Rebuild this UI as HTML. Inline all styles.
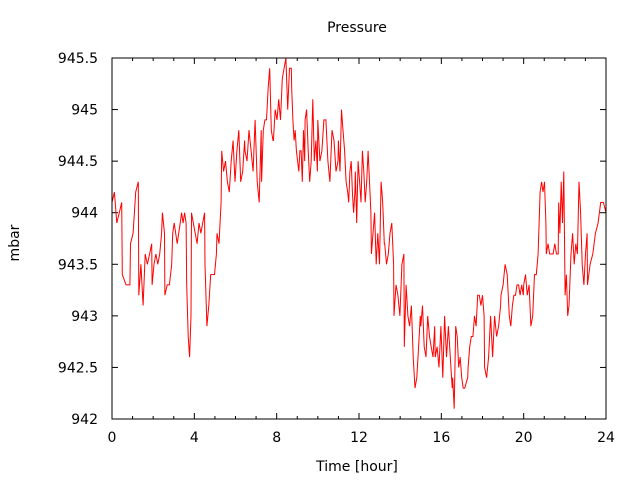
<!DOCTYPE html>
<html><head><meta charset="utf-8"><style>
body{margin:0;background:#fff}
svg{display:block;font-family:"DejaVu Sans","Liberation Sans",sans-serif}
</style></head><body>
<svg width="640" height="480">
<rect width="640" height="480" fill="#fff"/>
<text x="357" y="32" font-size="14" text-anchor="middle">Pressure</text>
<text x="19" y="243" font-size="14" text-anchor="middle" transform="rotate(-90 19 243)">mbar</text>
<text x="357" y="471" font-size="14" text-anchor="middle">Time [hour]</text>
<g id="axes"></g>
<g id="series"></g>
<rect x="112" y="58" width="494" height="361" fill="none" stroke="#000" stroke-width="1"/>
</svg>
<script>
const xTicks=[0,4,8,12,16,20,24];
const yTicks=[942,942.5,943,943.5,944,944.5,945,945.5];
const yTickLabels=["942","942.5","943","943.5","944","944.5","945","945.5"];
// segments: [startHour, endHour, values]
const seg1=[0,0.47,[944.1,944.2,943.9,944.0,944.1]];
const seg2=[0.5,0.87,[943.4,943.3,943.3]];
const seg3=[0.9,1.28,[943.7,943.8,944.2,944.3]];
const seg4=[1.3,1.93,[943.2,943.5,943.1,943.6,943.5,943.6,943.7]];
const seg5=[1.95,2.41,[943.3,943.5,943.6,943.5,943.6,943.8]];
const seg6=[2.45,2.55,[944.0,943.8]];
const seg7=[2.57,2.9,[943.2,943.3,943.3,943.5]];
const seg8=[2.95,3.6,[943.8,943.9,943.8,943.7,943.8,943.9,944.0,943.9,944.0,943.9]];
const seg9=[3.63,3.84,[943.3,942.8,942.6,943.0]];
const seg10=[3.86,4.5,[944.0,943.9,943.8,943.7,943.9,943.8,943.9,944.0]];
const seg11=[4.52,5.07,[943.5,942.9,943.1,943.4,943.4,943.4,943.6]];
const seg12=[5.1,5.3,[943.8,943.7,944.1]];
const seg13=[5.33,6.44,[944.6,944.4,944.5,944.3,944.2,944.5,944.7,944.3,944.6,944.8,944.3,944.4,944.7]];
const seg14=[6.46,7.25,[944.6,944.5,944.8,944.6,944.4,944.9,944.3,944.1,944.8]];
const seg15=[7.27,7.82,[944.3,944.8,944.9,944.9,945.2,945.4,944.8,944.7]];
const seg16=[7.84,8.71,[944.7,945.0,944.9,945.1,944.9,945.3,945.4,945.5,945.0,945.4,945.4]];
const seg17=[8.73,9.36,[945.2,944.9,944.7,944.8,944.6,944.5,944.4,944.6,944.6,944.3,944.8,944.5]];
const seg18=[9.38,9.98,[944.9,945.0,944.6,944.3,944.5,945.1,944.5,944.7,944.4]];
const seg19=[10.0,10.98,[944.9,944.5,944.6,944.9,944.9,944.5,944.3,944.8,944.7,944.4,944.5]];
const seg20=[11.0,11.45,[944.7,944.4,945.0,944.8,944.6,944.3,944.2]];
const seg21=[11.5,11.8,[944.1,944.4,944.5,944.2,944.0,944.2]];
const seg22=[11.82,12.58,[944.4,943.9,944.5,944.3,944.1,944.6,944.4,944.1,944.3,944.6,944.3,944.0]];
const seg23=[12.6,13.23,[943.6,943.8,944.0,943.5,943.8,943.5,944.3,944.1,943.7]];
const seg24=[13.25,13.68,[943.7,943.5,943.6,943.8,943.9,943.5]];
const seg25=[13.7,14.18,[943.0,943.3,943.2,943.0,943.5,943.6]];
const seg26=[14.2,14.98,[942.7,943.3,943.0,942.9,943.1,942.6,942.3,942.4,942.7,943.0]];
const seg27=[15.0,15.68,[942.9,943.1,942.7,942.6,943.0,942.8,942.7,942.6,942.9]];
const seg28=[15.7,16.53,[942.6,942.7,942.5,942.9,942.4,943.0,942.6,942.9,942.6,942.3]];
const seg29=[16.55,17.28,[942.4,942.1,942.9,942.8,942.5,942.6,942.4,942.3,942.3,942.35,942.4]];
const seg30=[17.3,18.08,[942.5,942.7,942.8,942.8,943.0,942.9,943.2,943.2,943.1,943.2,943.0]];
const seg31=[18.1,18.88,[942.5,942.4,942.6,943.0,942.6,943.0,942.8,942.9,943.1]];
const seg32=[18.9,19.2,[943.2,943.3,943.5,943.4]];
const seg33=[19.3,19.98,[943.0,942.9,943.1,943.2,943.2,943.3,943.3,943.2,943.3,943.2]];
const seg34=[20.0,20.7,[943.3,943.4,943.2,943.3,942.9,943.0,943.4,943.4,943.6]];
const seg35=[20.8,21.08,[944.2,944.3,944.2,944.3,943.9]];
const seg36=[21.1,21.68,[943.6,943.7,943.6,943.6,943.6,943.7,943.6,943.6]];
const seg37=[21.7,22.2,[944.1,943.8,944.3,943.9,944.4,943.2,943.4,943.0,943.1]];
const seg38=[22.3,23.08,[943.6,943.8,943.5,943.7,943.6,944.3,944.0,943.5,943.3,943.6,943.8]];
const seg39=[23.1,24.0,[943.3,943.5,943.6,943.8,943.9,944.1,944.1,944.0]];
const segments=[seg1,seg2,seg3,seg4,seg5,seg6,seg7,seg8,seg9,seg10,seg11,seg12,seg13,seg14,seg15,seg16,seg17,seg18,seg19,seg20,seg21,seg22,seg23,seg24,seg25,seg26,seg27,seg28,seg29,seg30,seg31,seg32,seg33,seg34,seg35,seg36,seg37,seg38,seg39];

const L=112,R=606,T=58,B=419;
const xs=h=>L+(h-0)/(24-0)*(R-L);
const ys=v=>B-(v-942)/(945.5-942)*(B-T);
const NS="http://www.w3.org/2000/svg";
const axes=document.getElementById('axes');
function mk(tag,attrs,parent){const e=document.createElementNS(NS,tag);for(const k in attrs)e.setAttribute(k,attrs[k]);parent.appendChild(e);return e;}
for(let h=0;h<=24;h++){
  const major=h%4===0, len=major?6:3;
  const t1=mk('line',{x1:xs(h),x2:xs(h),y1:B,y2:B-len,stroke:'#000'},axes);
  
  
  const t2=mk('line',{x1:xs(h),x2:xs(h),y1:T,y2:T+len,stroke:'#000'},axes);
  
  
}
xTicks.forEach(h=>{
  const t=mk('text',{x:xs(h),y:442,'font-size':14,'text-anchor':'middle'},axes);
  t.textContent=String(h);
  
  
});
yTicks.forEach((v,i)=>{
  const a=mk('line',{x1:L,x2:L+6,y1:ys(v),y2:ys(v),stroke:'#000'},axes);
  
  
  const b=mk('line',{x1:R,x2:R-6,y1:ys(v),y2:ys(v),stroke:'#000'},axes);
  
  
  const t=mk('text',{x:98,y:ys(v)+5,'font-size':14,'text-anchor':'end'},axes);
  t.textContent=yTickLabels[i];
  
  
});
const pts=[];
segments.forEach(s=>{
  const [a,b,vals]=s;
  vals.forEach((v,i)=>{
    const h=vals.length>1?a+(b-a)*i/(vals.length-1):a;
    pts.push(xs(h).toFixed(1)+','+ys(v).toFixed(1));
  });
});
const line=mk('polyline',{points:pts.join(' '),fill:'none',stroke:'#ff0000','stroke-width':1},document.getElementById('series'));


</script>
</body></html>
